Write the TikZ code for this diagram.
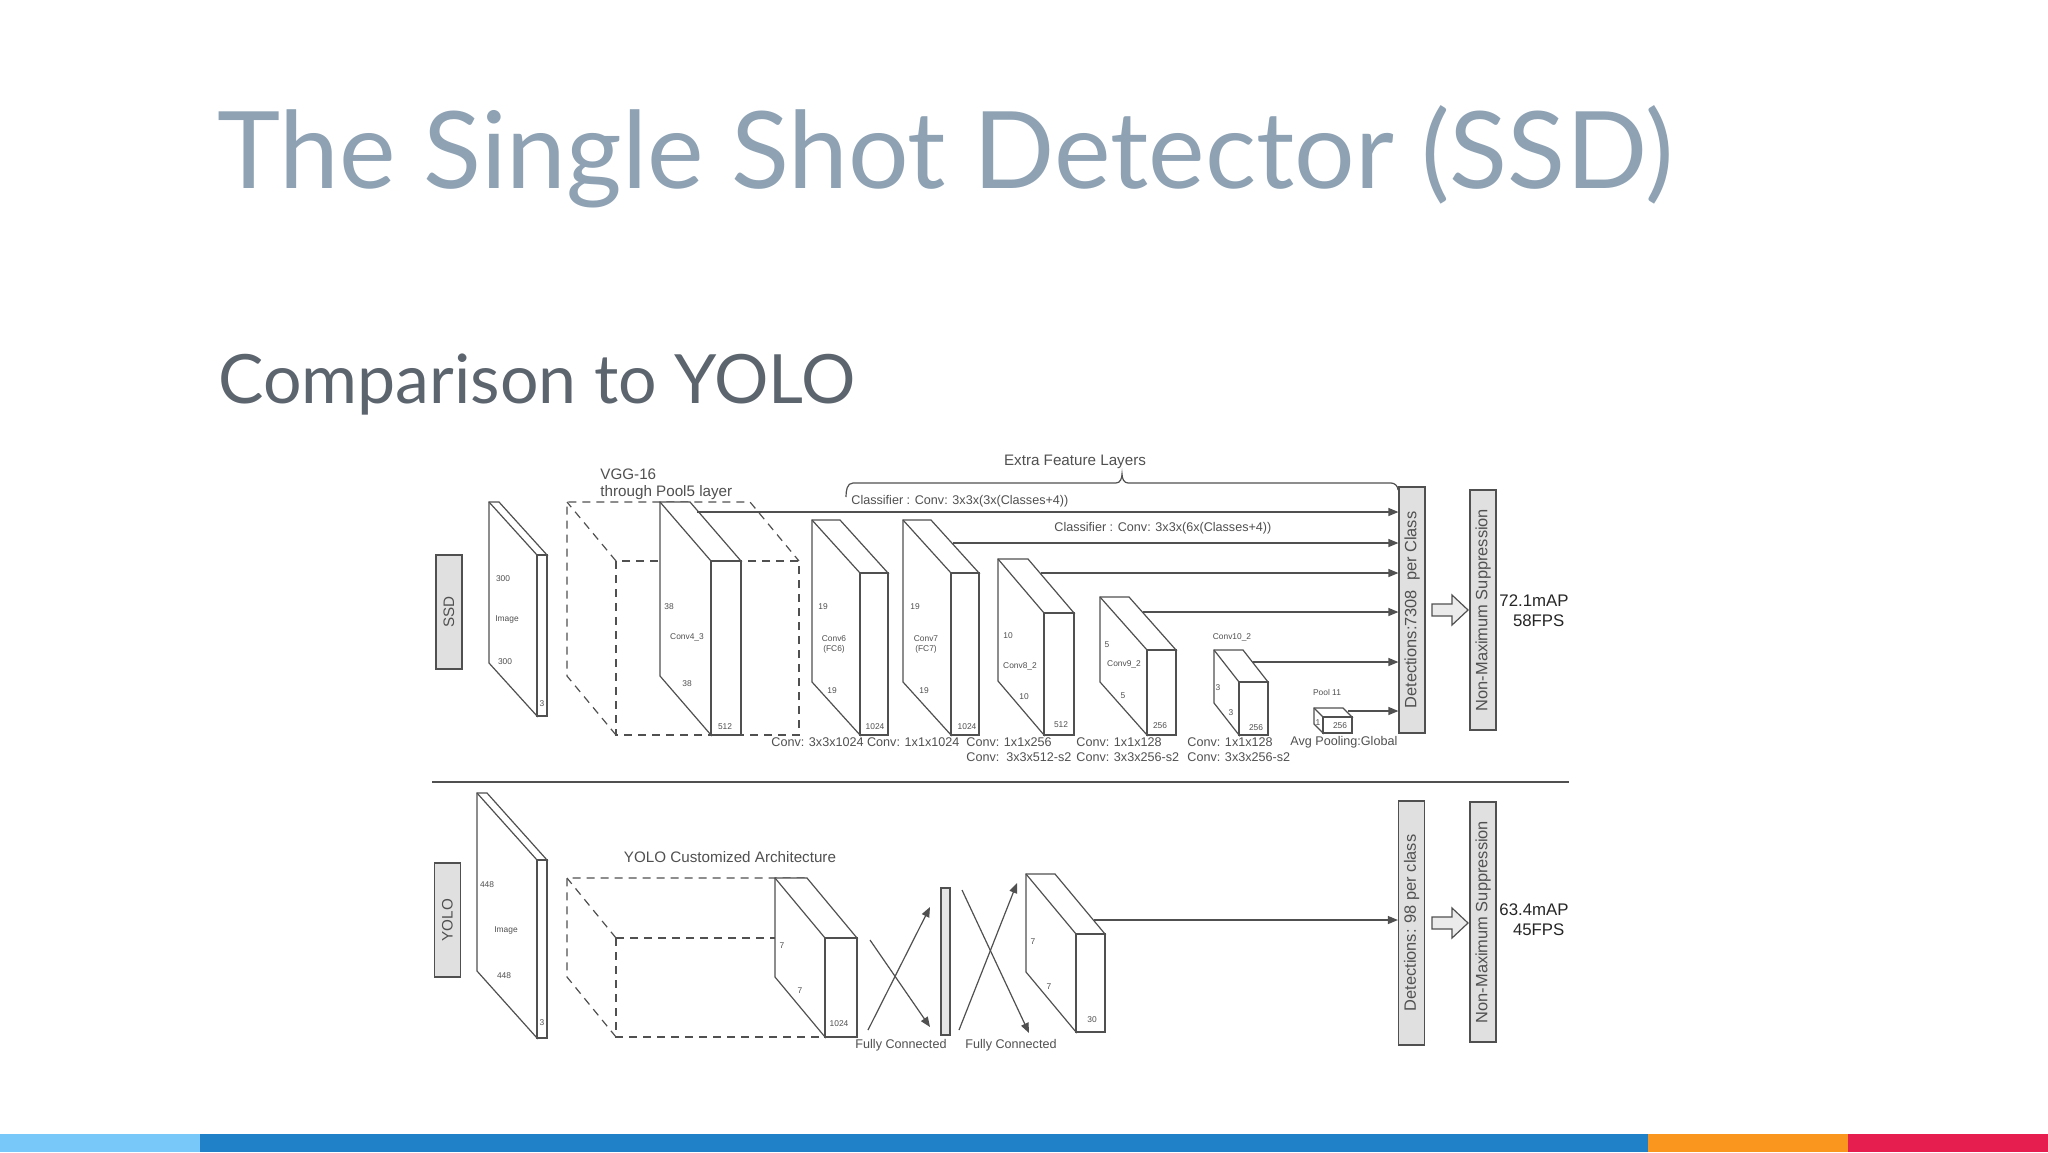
\documentclass[tikz,border=0pt]{standalone}
\usepackage{fontspec}
\setmainfont{Liberation Sans}
\newfontfamily\titlefont{Lato}
\usetikzlibrary{arrows.meta}
\definecolor{titleblue}{RGB}{142,162,180}
\definecolor{subgray}{RGB}{92,100,110}
\definecolor{ln}{RGB}{80,80,80}
\definecolor{barA}{RGB}{120,200,250}
\definecolor{barB}{RGB}{32,128,200}
\definecolor{barC}{RGB}{250,150,30}
\definecolor{barD}{RGB}{230,30,80}
\tikzset{
  sl/.style={draw=ln,line width=0.6pt,fill=white},
  dsh/.style={draw=ln,line width=0.6pt,dash pattern=on 4pt off 3pt},
  tiny/.style={font=\fontsize{4.2}{5}\selectfont,text=ln,inner sep=0},
  lab/.style={font=\fontsize{6.3}{7.5}\selectfont,text=ln,inner sep=0},
  big/.style={font=\fontsize{7.6}{9}\selectfont,text=ln,inner sep=0},
  arr/.style={draw=ln,line width=0.6pt,-{Triangle[length=5pt,width=4pt]}},
  gbox/.style={draw=ln,fill=black!12,line width=0.6pt},
}
\newcommand{\slab}[6]{%
  \filldraw[sl] (#1,#4) -- ++(#5,#6) -- ++(0,{#2-#4}) -- ++({#3-#1},0) -- (#3,#2) -- (#1,#2) -- cycle;
  \draw[sl] (#1,#2) -- ++(#5,#6);
  \filldraw[sl] (#1,#2) rectangle (#3,#4);}
\begin{document}
\begin{tikzpicture}[x=0.5pt,y=-0.5pt]
\useasboundingbox (0,0) rectangle (2048,1152);
\fill[white] (0,0) rectangle (2048,1152);
% title
\node[anchor=west,inner sep=0,text=titleblue,font=\titlefont\fontsize{53.5}{60}\selectfont] (title) at (217,157) {The Single Shot Detector (SSD)};
\node[anchor=west,inner sep=0,text=subgray,font=\titlefont\fontsize{34}{40}\selectfont] (sub) at (218,385) {Comparison to YOLO};
% bottom bar
\fill[barA] (0,1134) rectangle (200,1152);
\fill[barB] (200,1134) rectangle (1648,1152);
\fill[barC] (1648,1134) rectangle (1848,1152);
\fill[barD] (1848,1134) rectangle (2048,1152);

% ===== SSD =====
\node[gbox,minimum width=13pt,minimum height=57pt,inner sep=0] (ssd) at (449,612) {};
\node[big,rotate=90] (ssdt) at (ssd) {SSD};
\slab{537}{555}{547}{716}{-48}{-53}
\node[tiny] (i1) at (503,579) {300};
\node[tiny] (i2) at (507,619) {Image};
\node[tiny] (i3) at (505,662) {300};
\node[tiny] (i4) at (542,704) {3};
% VGG dashed
\draw[dsh] (616,561) rectangle (799,735);
\draw[dsh] (616,735) -- ++(-49,-59) -- ++(0,-174) -- ++(183,0) -- (799,561);
\draw[dsh] (616,561) -- ++(-49,-59);
\node[big,anchor=west] (vgg1) at (600,474) {VGG-16};
\node[big,anchor=west] (vgg2) at (600,493) {through Pool5 layer};
\slab{711}{561}{741}{735}{-51}{-59}
\node[tiny] (a1) at (669,607) {38};
\node[tiny] (a2) at (687,637) {Conv4\_3};
\node[tiny] (a3) at (687,684) {38};
\node[tiny] (a4) at (725,727) {512};
\slab{860}{573}{888}{735}{-48}{-53}
\node[tiny] (b1) at (823,607) {19};
\node[tiny,align=center] (b2) at (834,644) {Conv6\\(FC6)};
\node[tiny] (b3) at (832,691) {19};
\node[tiny] (b4) at (875,727) {1024};
\slab{951}{573}{979}{735}{-48}{-53}
\node[tiny] (c1) at (915,607) {19};
\node[tiny,align=center] (c2) at (926,644) {Conv7\\(FC7)};
\node[tiny] (c3) at (924,691) {19};
\node[tiny] (c4) at (967,727) {1024};
\slab{1044}{613}{1074}{735}{-46}{-54}
\node[tiny] (d1) at (1008,636) {10};
\node[tiny] (d2) at (1020,666) {Conv8\_2};
\node[tiny] (d3) at (1024,697) {10};
\node[tiny] (d4) at (1061,725) {512};
\slab{1147}{650}{1176}{735}{-47}{-53}
\node[tiny] (e1) at (1107,645) {5};
\node[tiny] (e2) at (1124,664) {Conv9\_2};
\node[tiny] (e3) at (1123,696) {5};
\node[tiny] (e4) at (1160,726) {256};
\slab{1239}{682}{1268}{735}{-25}{-32}
\node[tiny] (f0) at (1232,637) {Conv10\_2};
\node[tiny] (f1) at (1218,688) {3};
\node[tiny] (f2) at (1231,713) {3};
\node[tiny] (f3) at (1256,728) {256};
\slab{1323}{717}{1352}{733}{-9}{-9}
\node[tiny] (g0) at (1327,692) {Pool 11};
\node[tiny] (g1) at (1318,723) {1};
\node[tiny] (g3) at (1340,726) {256};
% bottom labels
\node[lab,anchor=west] (l1) at (771,742) {Conv: 3x3x1024 Conv: 1x1x1024};
\node[lab,anchor=west,align=left] (l2) at (966,750) {Conv: 1x1x256\\Conv:\ \ 3x3x512-s2};
\node[lab,anchor=west,align=left] (l3) at (1076,750) {Conv: 1x1x128\\Conv: 3x3x256-s2};
\node[lab,anchor=west,align=left] (l4) at (1187,750) {Conv: 1x1x128\\Conv: 3x3x256-s2};
\node[lab,anchor=west] (l5) at (1290,742) {Avg Pooling:Global};
% detections
\node[gbox,minimum width=13pt,minimum height=123pt,inner sep=0] (det) at (1412,610) {};
\node[big,rotate=90,font=\fontsize{8.2}{9}\selectfont] (dett) at (det) {Detections:7308\ \ per Class};
\node[gbox,minimum width=13pt,minimum height=120pt,inner sep=0] (nms) at (1483,610) {};
\node[big,rotate=90,font=\fontsize{8.2}{9}\selectfont] (nmst) at (nms) {Non-Maximum Suppression};
\filldraw[draw=ln,fill=black!8,line width=0.6pt] (1432,616) -- (1452,616) -- (1452,625) -- (1468,610) -- (1452,595) -- (1452,604) -- (1432,604) -- cycle;
\node[font=\fontsize{8.4}{10}\selectfont,inner sep=0,align=center,text=black!85] (res1) at (1534,611) {72.1mAP\\\ \ 58FPS};
% arrows
\coordinate (s1) at (697,512);
\coordinate (s2) at (953,543);
\coordinate (s3) at (1041,573);
\coordinate (s4) at (1143,612);
\coordinate (s5) at (1253,662);
\coordinate (s6) at (1348,711);
\foreach \s in {s1,s2,s3,s4,s5,s6} \draw[arr] (\s) -- (\s -| det.west);
% brace
\draw[ln,line width=0.6pt] (846,497) to[out=90,in=180] (853,483) -- (1116,483) to[out=0,in=-90] (1122,474) to[out=-90,in=180] (1128,483) -- (1391,483) to[out=0,in=90] (1398,490);
\node[big] (efl) at (1075,462) {Extra Feature Layers};
\node[lab,anchor=west] (cl1) at (851,501) {Classifier : Conv: 3x3x(3x(Classes+4))};
\node[lab,anchor=west] (cl2) at (1054,528) {Classifier : Conv: 3x3x(6x(Classes+4))};
% separator
\draw[ln,line width=1.3pt] (432,782) -- (1569,782);

% ===== YOLO =====
\node[gbox,minimum width=13pt,minimum height=57pt,inner sep=0] (yolo) at (447.5,920) {};
\node[big,rotate=90] (yolot) at (yolo) {YOLO};
\slab{537}{860}{547}{1038}{-60}{-67}
\node[tiny] (j1) at (487,885) {448};
\node[tiny] (j2) at (506,930) {Image};
\node[tiny] (j3) at (504,976) {448};
\node[tiny] (j4) at (542,1023) {3};
\draw[dsh] (616,938) rectangle (857,1037);
\draw[dsh] (616,1037) -- ++(-49,-60) -- ++(0,-99) -- ++(241,0);
\draw[dsh] (616,938) -- ++(-49,-60);
\node[big] (yca) at (730,857) {YOLO Customized Architecture};
\slab{825}{938}{857}{1037}{-50}{-60}
\node[tiny] (k1) at (782,946) {7};
\node[tiny] (k2) at (800,991) {7};
\node[tiny] (k3) at (839,1024) {1024};
\coordinate (fa1) at (868,1030); \coordinate (fa2) at (930,907);
\coordinate (fb1) at (870,940); \coordinate (fb2) at (930,1027);
\draw[arr] (fa1) -- (fa2);
\draw[arr] (fb1) -- (fb2);
\filldraw[draw=ln,fill=black!10,line width=0.6pt] (941,888) rectangle (950,1035);
\coordinate (fc1) at (959,1030); \coordinate (fc2) at (1017,883);
\coordinate (fd1) at (962,890); \coordinate (fd2) at (1029,1033);
\draw[arr] (fc1) -- (fc2);
\draw[arr] (fd1) -- (fd2);
\node[lab] (fcl1) at (901,1045) {Fully Connected};
\node[lab] (fcl2) at (1011,1045) {Fully Connected};
\slab{1076}{934}{1105}{1032}{-50}{-60}
\node[tiny] (m1) at (1033,942) {7};
\node[tiny] (m2) at (1049,987) {7};
\node[tiny] (m3) at (1092,1020) {30};
\node[gbox,minimum width=13pt,minimum height=122pt,inner sep=0] (det2) at (1411.5,923) {};
\node[big,rotate=90,font=\fontsize{8.2}{9}\selectfont] (det2t) at (det2) {Detections: 98 per class};
\coordinate (s7) at (1094,920);
\draw[arr] (s7) -- (s7 -| det2.west);
\node[gbox,minimum width=13pt,minimum height=120pt,inner sep=0] (nms2) at (1483,922) {};
\node[big,rotate=90,font=\fontsize{8.2}{9}\selectfont] (nms2t) at (nms2) {Non-Maximum Suppression};
\filldraw[draw=ln,fill=black!8,line width=0.6pt] (1432,929) -- (1452,929) -- (1452,938) -- (1468,923) -- (1452,908) -- (1452,917) -- (1432,917) -- cycle;
\node[font=\fontsize{8.4}{10}\selectfont,inner sep=0,align=center,text=black!85] (res2) at (1534,920) {63.4mAP\\\ \ 45FPS};
\end{tikzpicture}
\end{document}
